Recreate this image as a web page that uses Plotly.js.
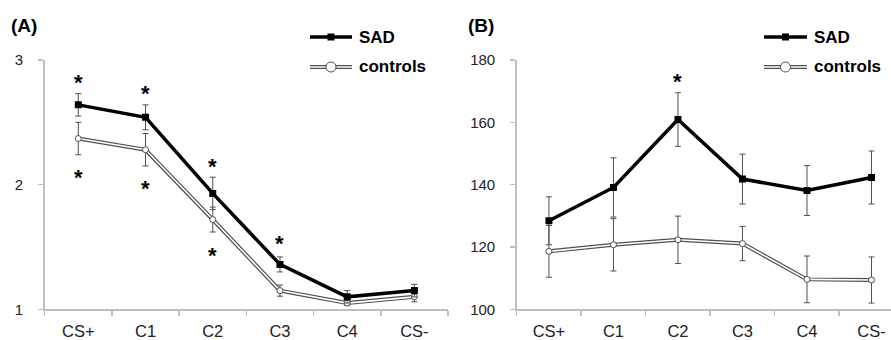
<!DOCTYPE html>
<html>
<head>
<meta charset="utf-8">
<script src="https://cdn.plot.ly/plotly-3.0.1.min.js"></script>
<style>html,body{margin:0;padding:0;background:#fff;}#chart{width:891px;height:340px;}</style>
</head>
<body>
<div id="chart"></div>
<script>
// ---- data ----
const categories = ['CS+', 'C1', 'C2', 'C3', 'C4', 'CS-'];
const sadA = [2.64, 2.54, 1.93, 1.36, 1.10, 1.15];
const sadAErr = [0.09, 0.10, 0.13, 0.06, 0.05, 0.05];
const ctrlA = [2.37, 2.28, 1.72, 1.15, 1.05, 1.10];
const ctrlAErr = [0.13, 0.13, 0.10, 0.045, 0.02, 0.04];
const sadB = [128.4, 139.1, 160.9, 141.8, 138.1, 142.3];
const sadBErr = [7.7, 9.5, 8.6, 8.0, 8.0, 8.5];
const ctrlB = [118.6, 120.7, 122.3, 121.1, 109.6, 109.4];
const ctrlBErr = [8.3, 8.4, 7.6, 5.5, 7.5, 7.4];
// significance stars
const starAx = ['CS+', 'CS+', 'C1', 'C1', 'C2', 'C2', 'C3'];
const starAy = [2.85, 2.09, 2.76, 2.00, 2.18, 1.46, 1.56];
const starBx = ['C2'];
const starBy = [174.3];
const seriesNames = ['SAD', 'controls'];
const panelLabels = ['(A)', '(B)'];

const W = 891, H = 340;
const px = v => v / W, py = v => 1 - v / H;
const GRAY = '#505050';
const AXC = '#bfbfbf';
const FONT = 'Liberation Sans, Arial, sans-serif';

function panelTraces(xa, ya, sad, sadErr, ctrl, ctrlErr) {
  return [
    { x: categories, y: ctrl, xaxis: xa, yaxis: ya, type: 'scatter', mode: 'lines',
      line: { color: GRAY, width: 4 }, showlegend: false, hoverinfo: 'skip',
      error_y: { type: 'data', array: ctrlErr, visible: true, color: GRAY, thickness: 1, width: 3 } },
    { x: categories, y: ctrl, xaxis: xa, yaxis: ya, type: 'scatter', mode: 'lines+markers',
      line: { color: '#ffffff', width: 1.6 },
      marker: { symbol: 'circle', size: 6, color: '#ffffff', line: { color: GRAY, width: 1 } },
      showlegend: false, name: seriesNames[1] },
    { x: categories, y: sad, xaxis: xa, yaxis: ya, type: 'scatter', mode: 'lines+markers',
      line: { color: '#000000', width: 3.5 },
      marker: { symbol: 'square', size: 7, color: '#000000' },
      showlegend: false, name: seriesNames[0],
      error_y: { type: 'data', array: sadErr, visible: true, color: GRAY, thickness: 1, width: 3 } }
  ];
}

const data = [
  ...panelTraces('x', 'y', sadA, sadAErr, ctrlA, ctrlAErr),
  ...panelTraces('x2', 'y2', sadB, sadBErr, ctrlB, ctrlBErr)
];

const xCommon = {
  type: 'category', tickson: 'boundaries', ticks: 'outside', ticklen: 5, tickcolor: AXC, tickwidth: 1.5,
  showline: true, linecolor: AXC, linewidth: 1.5, showgrid: false, zeroline: false,
  tickfont: { family: FONT, size: 16.5, color: '#222' }, ticklabelstandoff: 6, fixedrange: true
};
const yCommon = {
  ticks: 'outside', ticklen: 5, tickcolor: AXC, tickwidth: 1.5, showline: true, linecolor: AXC, linewidth: 1.5,
  showgrid: false, zeroline: false, tickfont: { family: FONT, size: 15, color: '#222' }, ticklabelstandoff: 12,
  fixedrange: true
};

const yDom = [1 - 309.3 / H, 1 - 60 / H];

const annotations = [];
starAx.forEach((c, i) => annotations.push({ x: c, y: starAy[i], xref: 'x', yref: 'y', text: '<b>*</b>', showarrow: false,
  font: { family: FONT, size: 22, color: '#000' }, yanchor: 'middle', yshift: -4 }));
starBx.forEach((c, i) => annotations.push({ x: c, y: starBy[i], xref: 'x2', yref: 'y2', text: '<b>*</b>', showarrow: false,
  font: { family: FONT, size: 22, color: '#000' }, yanchor: 'middle', yshift: -4 }));

// panel labels
[[9, 26], [466, 26]].forEach((p, i) => annotations.push({ x: px(p[0]), y: py(p[1]), xref: 'paper', yref: 'paper',
  text: '<b>' + panelLabels[i] + '</b>', showarrow: false, xanchor: 'left', yanchor: 'middle',
  font: { family: FONT, size: 19, color: '#000' } }));

// legends (drawn manually)
const shapes = [];
[[310, 352], [764, 807]].forEach(([x0, x1]) => {
  const xm = (x0 + x1) / 2;
  shapes.push({ type: 'line', xref: 'paper', yref: 'paper', x0: px(x0), x1: px(x1), y0: py(37), y1: py(37),
    line: { color: '#000', width: 3.5 } });
  shapes.push({ type: 'rect', xref: 'paper', yref: 'paper', x0: px(xm - 3.5), x1: px(xm + 3.5), y0: py(40.5), y1: py(33.5),
    line: { width: 0 }, fillcolor: '#000' });
  shapes.push({ type: 'line', xref: 'paper', yref: 'paper', x0: px(x0), x1: px(x1), y0: py(67), y1: py(67),
    line: { color: GRAY, width: 4 } });
  shapes.push({ type: 'line', xref: 'paper', yref: 'paper', x0: px(x0), x1: px(x1), y0: py(67), y1: py(67),
    line: { color: '#fff', width: 1.6 } });
  shapes.push({ type: 'circle', xref: 'paper', yref: 'paper', x0: px(xm - 5), x1: px(xm + 5), y0: py(72), y1: py(62),
    line: { color: GRAY, width: 1 }, fillcolor: '#fff' });
  seriesNames.forEach((n, i) => annotations.push({ x: px(x1 + 5), y: py(i === 0 ? 37 : 67), xref: 'paper', yref: 'paper',
    text: '<b>' + n + '</b>', showarrow: false, xanchor: 'left', yanchor: 'middle',
    font: { family: FONT, size: 17, color: '#000' } }));
});

const layout = {
  width: W, height: H, margin: { l: 0, r: 0, t: 0, b: 0 }, paper_bgcolor: '#fff', plot_bgcolor: '#fff',
  showlegend: false,
  xaxis: Object.assign({}, xCommon, { domain: [44.7 / W, 448 / W], range: [-0.5, 5.5], anchor: 'y' }),
  yaxis: Object.assign({}, yCommon, { domain: yDom, range: [1, 3], dtick: 1, anchor: 'x' }),
  xaxis2: Object.assign({}, xCommon, { domain: [516.7 / W, 1], range: [-0.5, 5.5 - (903.7 - 891) / 64.4], anchor: 'y2' }),
  yaxis2: Object.assign({}, yCommon, { domain: yDom, range: [100, 180], dtick: 20, anchor: 'x2' }),
  annotations: annotations, shapes: shapes
};

Plotly.newPlot('chart', data, layout, { displayModeBar: false, staticPlot: true });
</script>
</body>
</html>
